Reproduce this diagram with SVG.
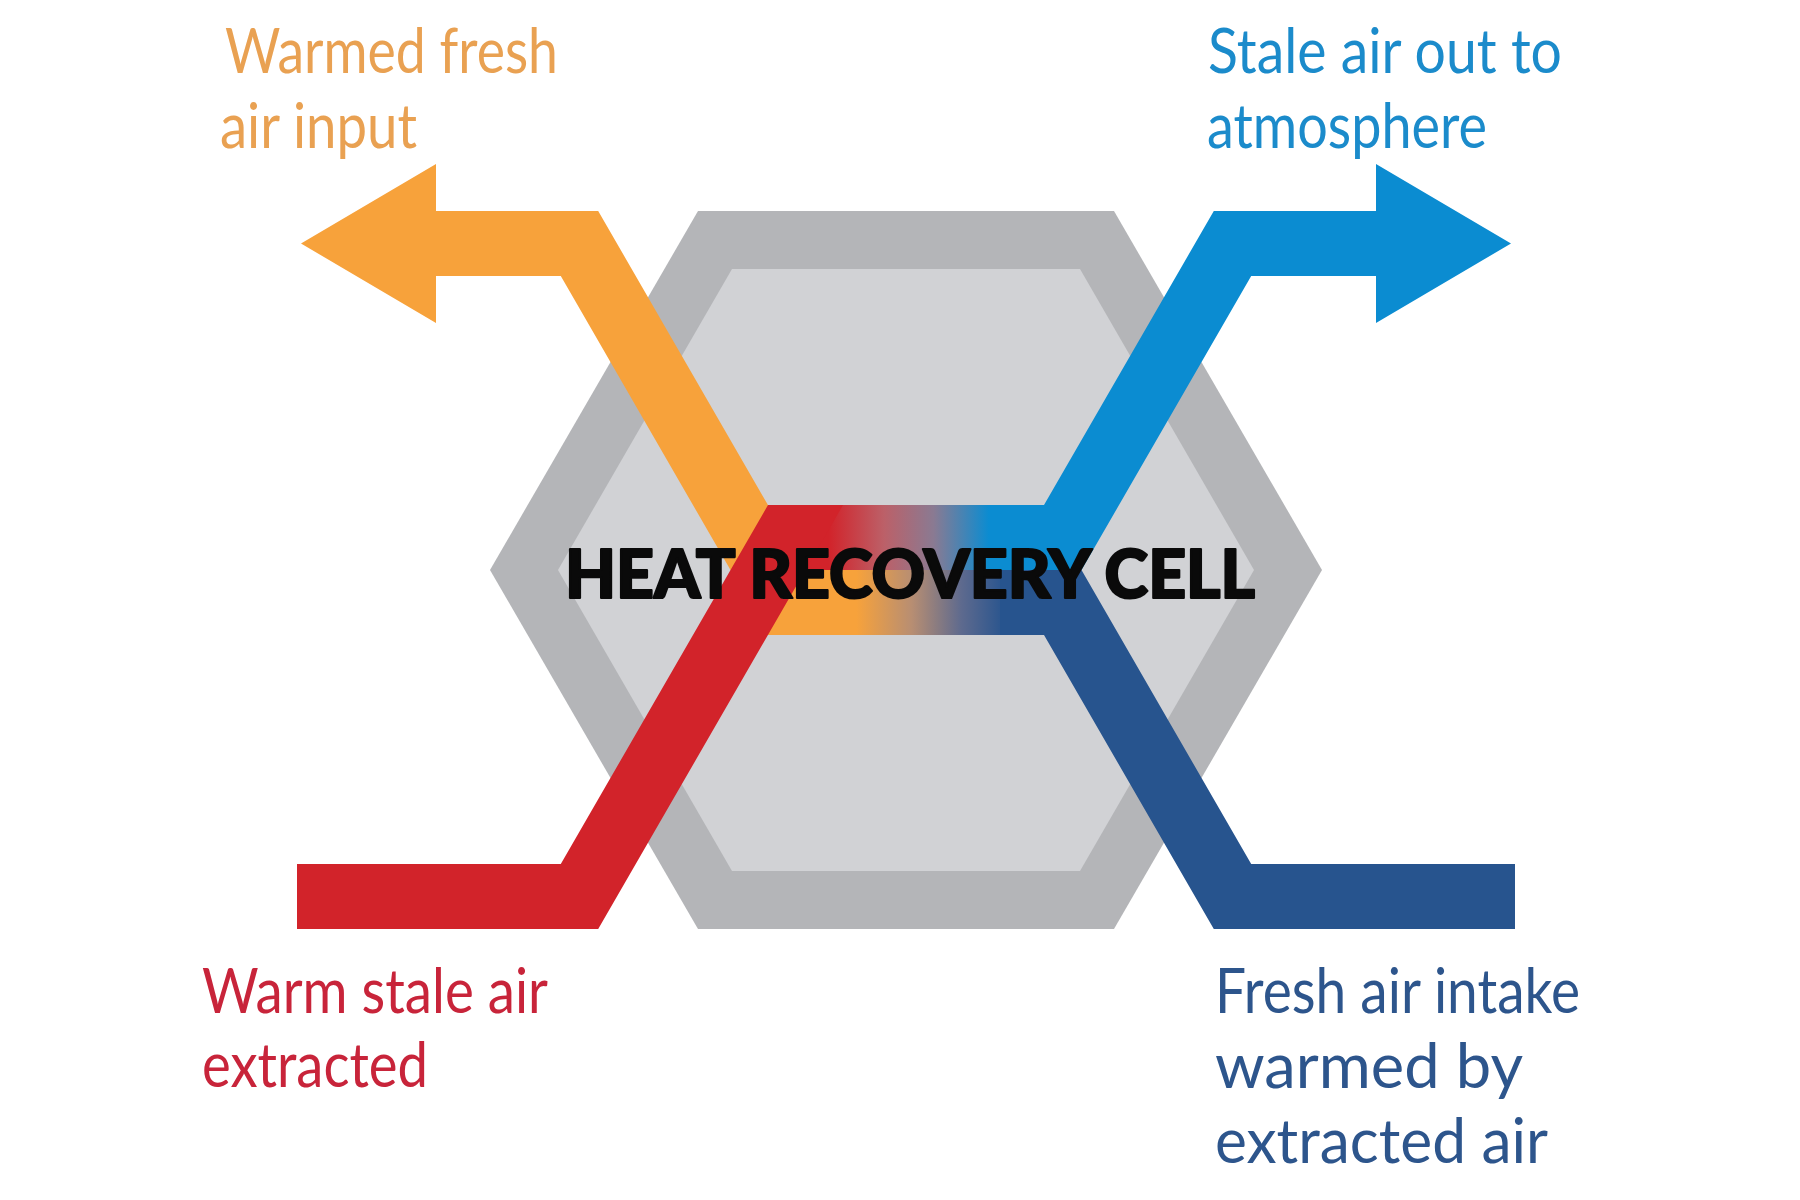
<svg xmlns="http://www.w3.org/2000/svg" width="1800" height="1200" viewBox="0 0 1800 1200">
<defs>
<style>
.lbl{font-family:Lato,"Open Sans","Liberation Sans",sans-serif;font-size:62px;font-weight:400}
.title{font-family:Lato,"Liberation Sans",sans-serif;font-size:66px;font-weight:900;fill:#0a0a0a;stroke:#0a0a0a;stroke-width:2.2;stroke-linejoin:round}
.orange{fill:#f7a23b}
.red{fill:#d2232a}
.lblue{fill:#0b8cd1}
.dblue{fill:#27548e}
</style>
<linearGradient id="gTop" gradientUnits="userSpaceOnUse" x1="768" y1="0" x2="1044" y2="0">
<stop offset="0.22" stop-color="#d2232a"/>
<stop offset="0.42" stop-color="#bc6068"/>
<stop offset="0.6" stop-color="#8a7a92"/>
<stop offset="0.8" stop-color="#0b8cd1"/>
</linearGradient>
<linearGradient id="gBot" gradientUnits="userSpaceOnUse" x1="768" y1="0" x2="1044" y2="0">
<stop offset="0.32" stop-color="#f7a23b"/>
<stop offset="0.52" stop-color="#b88e72"/>
<stop offset="0.7" stop-color="#5e6a8e"/>
<stop offset="0.86" stop-color="#27548e"/>
</linearGradient>
</defs>
<rect width="1800" height="1200" fill="#ffffff"/>
<g id="cell">
<polygon points="490,570 698,211 1114,211 1322,570 1114,929 698,929" fill="#b4b5b8"/>
<polygon points="558,570 732,269 1080,269 1254,570 1080,871 732,871" fill="#d1d2d5"/>
</g>
<g id="connectors">
<polygon id="flow-warmed-fresh" class="orange" points="301,243.5 436,164 436,211 598.2,211 805.5,570 830,570 830,635 768,635 560.8,276 436,276 436,323"/>
<rect id="band-bottom" x="768" y="570" width="276" height="65" fill="url(#gBot)"/>
<rect id="band-top" x="768" y="505" width="276" height="65" fill="url(#gTop)"/>
<polygon id="flow-stale-out" class="lblue" points="1000,505 1044,505 1213.8,211 1376,211 1376,164 1511,243.5 1376,323 1376,276 1251.2,276 1081.5,570 1000,570"/>
<polygon id="flow-fresh-intake" class="dblue" points="1000,570 1081.5,570 1251.2,864 1515,864 1515,929 1213.8,929 1044,635 1000,635"/>
<polygon id="flow-warm-stale" class="red" points="297,864 560.8,864 768,505 843,505 598.2,929 297,929"/>
</g>
<g id="title">
<text class="title" x="910" y="598" text-anchor="middle" textLength="690" lengthAdjust="spacingAndGlyphs">HEAT RECOVERY CELL</text>
</g>
<g id="label-warmed-fresh" class="lbl" fill="#e9a152">
<text x="225" y="73" textLength="333" lengthAdjust="spacingAndGlyphs">Warmed fresh</text>
<text x="220" y="148" textLength="197" lengthAdjust="spacingAndGlyphs">air input</text>
</g>
<g id="label-stale-out" class="lbl" fill="#1b8bcb">
<text x="1208" y="73" textLength="354" lengthAdjust="spacingAndGlyphs">Stale air out to</text>
<text x="1207" y="148" textLength="280" lengthAdjust="spacingAndGlyphs">atmosphere</text>
</g>
<g id="label-warm-stale" class="lbl" fill="#c8243a">
<text x="202" y="1013" textLength="346" lengthAdjust="spacingAndGlyphs">Warm stale air</text>
<text x="202" y="1087" textLength="226" lengthAdjust="spacingAndGlyphs">extracted</text>
</g>
<g id="label-fresh-intake" class="lbl" fill="#2d558c">
<text x="1215" y="1013" textLength="365" lengthAdjust="spacingAndGlyphs">Fresh air intake</text>
<text x="1215" y="1088" textLength="308" lengthAdjust="spacingAndGlyphs">warmed by</text>
<text x="1215" y="1163" textLength="333" lengthAdjust="spacingAndGlyphs">extracted air</text>
</g>
</svg>
